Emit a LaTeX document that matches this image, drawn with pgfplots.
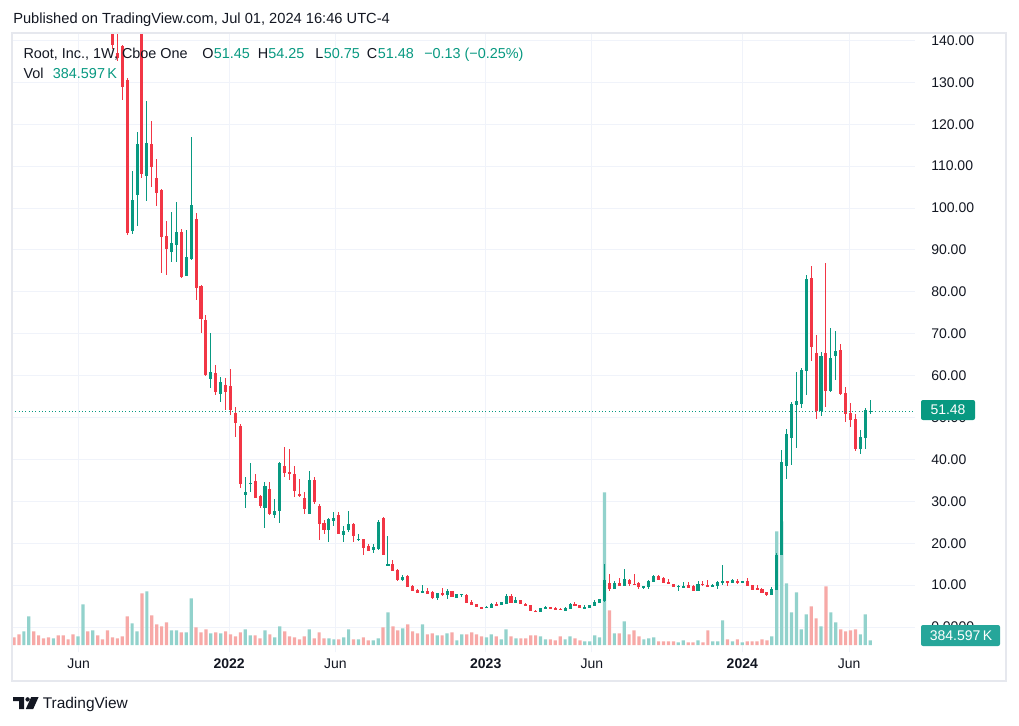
\documentclass[border=0pt]{standalone}
\usepackage{fontspec}
\setmainfont{Liberation Sans}
\usepackage{graphicx}
\usepackage{pgfplots}
\usepackage{pgfplotstable}
\pgfplotsset{compat=1.18}
\definecolor{upgreen}{HTML}{089981}
\definecolor{downred}{HTML}{F23645}
\definecolor{volup}{HTML}{92D2CC}
\definecolor{voldown}{HTML}{F7A9A7}
\definecolor{txt}{HTML}{131722}
\definecolor{gridcol}{HTML}{F0F3FA}
\definecolor{framecol}{HTML}{E6E8EE}
\definecolor{volbox}{HTML}{26A69A}
\pgfplotstableread{
i O H L C V
0 240 255 225 230 631
1 230 236 212 215 877
2 215 232 210 228 1123
3 226 250 220 240 2353
4 240 244 215 218 1123
5 218 222 200 204 795
6 204 210 195 198 549
7 198 202 185 188 631
8 188 198 185 195 549
9 195 197 180 182 795
10 182 186 168 171 795
11 171 176 165 168 467
12 168 172 158 160 877
13 160 172 157 170 713
14 170 195 168 188 3337
15 188 190 172 175 1123
16 175 185 171 180 1205
17 180 182 168 170 795
18 170 173 160 162 467
19 162 165 150 152 1205
20 152 156 138 139 631
21 137 145 135 135.8 549
22 138.7 139 125.8 129.0 713
23 130.6 131 93.6 94.0 2353
24 94.4 108.9 93.8 102.0 1779
25 103.2 118.1 95.8 115.3 1123
26 146 149 107.2 108.1 4239
27 107.7 125.5 101.6 115.5 4403
28 115.3 120.8 105.0 109.9 2435
29 107.2 111.6 100.5 103.5 1697
30 104.3 104.5 84.4 93.2 1533
31 93.3 96.9 84.1 90.1 1861
32 89.6 99.1 87.0 91.6 1205
33 91.2 101.4 87.0 94.3 1205
34 94.3 95.0 83.2 83.5 1041
35 83.8 94.75 83.7 88.2 1041
36 87.9 117.0 87.5 100.7 3829
37 97.3 98.9 78.0 80.8 1451
38 81.4 81.6 70.2 73.6 1041
39 73.3 74.5 60.0 60.1 1287
40 59.1 70.2 57.0 60.9 959
41 60.6 62.5 55.3 56.0 1041
42 55.6 59.6 53.8 58.5 959
43 57.8 59.4 51.7 56.0 1123
44 57.6 61.5 50.6 51.8 877
45 51.0 52.4 45.4 48.6 713
46 48.0 48.4 33.1 34.1 1041
47 31.5 35.9 28.5 32.3 1287
48 34.1 39.1 32.3 34.4 795
49 34.8 36.4 30.8 30.9 795
50 31.3 31.5 28.5 28.9 549
51 28.5 34.5 23.7 33.7 1205
52 32.9 34.5 26.8 26.9 877
53 26.7 30.5 26.1 27.7 631
54 27.8 39.4 24.9 39.1 1533
55 38.4 42.9 35.9 36.8 1123
56 37.0 42.5 35.1 36.4 713
57 36.6 38.5 31.1 32.5 631
58 31.8 35.3 31.1 31.4 467
59 30.9 32.3 27.0 28.2 713
60 27.0 37.2 26.9 35.1 1287
61 35.0 35.9 29.4 29.9 549
62 28.9 29.4 20.8 24.7 1041
63 24.8 25.5 22.3 23.2 549
64 23.2 26.1 20.4 25.8 549
65 25.4 27.4 24.2 26.1 467
66 26.7 27.4 22.2 22.3 467
67 21.9 24.2 20.4 22.9 631
68 23.2 27.8 22.6 24.5 1287
69 24.5 24.9 20.4 21.6 467
70 20.8 22.2 20.6 21.0 467
71 21.0 21.1 17.3 18.9 631
72 19.4 19.8 18.1 18.2 385
73 18.4 19.9 17.7 19.1 385
74 18.6 25.5 18.4 25.0 549
75 26.1 26.2 17.2 17.3 1451
76 14.7 21.8 14.6 15.1 2681
77 15.1 16.0 13.3 13.4 1533
78 13.7 13.8 11.0 11.3 1205
79 11.2 12.4 10.9 12.0 1369
80 12.2 12.4 9.6 9.6 1697
81 9.8 10.0 8.7 8.7 1123
82 8.9 9.0 8.0 8.0 959
83 8.3 10.0 8.2 8.6 1697
84 8.6 9.2 7.9 7.9 877
85 8.4 8.5 6.7 7.0 959
86 7.0 8.1 6.5 8.1 795
87 8.1 9.3 7.4 7.6 795
88 7.6 9.0 6.8 8.6 959
89 8.6 8.7 7.2 7.2 1041
90 7.0 7.9 7.0 7.9 385
91 7.7 7.9 7.2 7.9 877
92 7.6 7.9 5.7 5.7 877
93 6.0 6.5 5.2 5.2 1041
94 5.5 5.5 4.8 4.8 877
95 4.8 4.8 4.3 4.5 713
96 4.5 5.1 4.5 4.85 631
97 4.5 5.7 4.5 5.5 877
98 5.5 5.9 5.0 5.2 713
99 5.2 6.0 5.2 6.0 467
100 5.5 7.9 5.5 7.4 1287
101 7.4 7.9 5.7 5.7 713
102 5.7 7.2 5.7 6.5 549
103 6.5 6.5 5.5 5.5 549
104 5.5 5.7 5.0 5.0 549
105 5.2 5.2 3.8 3.8 795
106 3.8 4.0 3.6 3.6 795
107 3.6 4.5 3.6 4.5 713
108 4.5 5.0 4.3 4.8 467
109 4.8 4.8 4.3 4.5 467
110 4.6 4.8 4.0 4.0 385
111 4.4 4.5 4.0 4.1 713
112 3.8 4.8 3.8 4.5 467
113 4.3 5.7 4.3 5.5 713
114 5.5 6.0 5.0 5.0 549
115 5.2 5.2 4.5 4.5 385
116 4.5 5.2 4.5 4.8 303
117 4.5 5.2 4.5 5.2 303
118 5.0 6.5 5.0 6.0 795
119 5.7 6.7 5.7 6.7 631
120 6.2 15.0 6.0 11.2 12521
121 10.5 12.6 8.6 9.0 2845
122 9.0 11.0 9.0 10.5 959
123 10.5 11.7 9.8 9.8 959
124 9.8 13.8 9.8 11.4 1943
125 11.2 11.4 9.8 10.3 877
126 10.3 12.6 10.0 10.0 1205
127 10.5 10.7 9.0 9.5 713
128 9.5 9.8 9.0 9.8 467
129 9.5 11.2 9.0 11.0 549
130 10.7 12.3 10.7 12.2 631
131 12.2 12.3 11.2 11.2 303
132 11.7 11.9 10.5 10.5 303
133 10.7 11.4 10.3 10.3 303
134 10.3 10.3 9.5 9.5 303
135 9.6 10.1 8.6 9.9 221
136 9.3 10.7 9.3 9.8 385
137 10.0 10.7 9.3 9.3 221
138 9.8 10.0 8.6 8.6 221
139 8.6 11.0 8.6 10.3 385
140 10.3 11.0 9.8 10.0 221
141 10.0 11.2 9.5 9.8 1205
142 9.8 10.3 9.5 10.0 303
143 9.8 11.0 9.0 10.7 303
144 10.7 14.8 10.0 11.0 2025
145 11.0 11.0 9.8 10.7 467
146 10.5 11.4 10.5 11.2 303
147 11.0 11.4 10.3 10.5 467
148 10.7 11.0 10.6 11.0 221
149 11.0 11.7 9.8 9.8 303
150 10.0 10.0 8.8 8.8 303
151 9.4 10.0 8.8 8.8 303
152 9.0 9.2 8.2 8.2 467
153 8.3 8.3 7.4 7.6 385
154 7.6 9.5 7.6 9.0 713
155 8.8 17.7 8.8 17.2 9323
156 17.2 42.2 17.2 39.4 10143
157 38.4 47.2 35.4 46.1 5059
158 45.1 53.7 38.7 53.2 2681
159 53.0 60.9 42.8 53.9 4321
160 53.2 61.8 52.3 61.3 1287
161 61.2 84.0 55.4 83.1 2517
162 83.3 86.2 63.5 66.8 3173
163 65.4 69.7 49.7 51.6 2189
164 51.6 65.6 50.4 64.7 1533
165 65.4 86.9 52.6 56.4 4813
166 56.4 71.4 56.1 64.2 2681
167 64.7 70.6 58.9 65.9 1861
168 66.1 67.5 55.4 55.6 1287
169 55.8 57.3 49.0 50.9 1123
170 51.0 53.5 47.8 49.5 1205
171 49.6 50.8 42.1 42.4 1287
172 42.6 46.9 41.4 45.4 877
173 45.1 52.3 42.5 51.7 2517
174 51.45 54.25 50.75 51.48 385
}\candles
\pgfplotsset{
  base/.style={at={(9pt,54.75pt)}, anchor=south west, scale only axis,
    width=677.25pt, height=464.25pt, xmin=-0.41, xmax=183.1},
  pricey/.style={ymin=-5.967, ymax=141.77},
  upf/.style={restrict expr to domain={\thisrow{C}-\thisrow{O}}{0:100000}},
  dnf/.style={restrict expr to domain={\thisrow{C}-\thisrow{O}}{-100000:-0.00001}},
  nomk/.style={only marks, mark=*, mark size=0pt, mark options={draw=none, fill=none}},
}
\newcommand{\lab}{\fontsize{10.5pt}{12pt}\selectfont}
\newcommand{\leg}{\fontsize{10.8pt}{12pt}\selectfont}
\begin{document}
\begin{tikzpicture}[x=0.75pt,y=0.75pt]
\fill[white] (0,0) rectangle (1019,725);
% grid and tick labels
\begin{axis}[base, pricey,
  axis line style={draw=none}, major tick length=0pt, tick style={draw=none},
  xtick={13.14,43.71,65.29,95.86,117.43,148,169.71},
  xticklabels={Jun,\textbf{2022},Jun,\textbf{2023},Jun,\textbf{2024},Jun},
  ytick={0,10,20,30,40,50,60,70,80,90,100,110,120,130,140},
  yticklabels={0.0000,10.00,20.00,30.00,40.00,50.00,60.00,70.00,80.00,90.00,100.00,110.00,120.00,130.00,140.00},
  yticklabel pos=right,
  grid=major, major grid style={draw=gridcol, line width=0.75pt},
  ticklabel style={font=\lab, text=txt},
  xticklabel style={anchor=base, inner sep=0pt, yshift=-12pt},
  yticklabel style={anchor=west, inner sep=0pt, xshift=12pt},
]
\end{axis}
% volume
\begin{axis}[base, hide axis, ymin=-574, ymax=50184]
\addplot[ybar, bar width=2.4pt, bar shift=0pt, fill=volup, draw=none, upf]
  table[x=i, y=V] {\candles};
\addplot[ybar, bar width=2.4pt, bar shift=0pt, fill=voldown, draw=none, dnf]
  table[x=i, y=V] {\candles};
\end{axis}
% candles
\begin{axis}[base, pricey, hide axis]
\addplot[nomk, upf,
  error bars/.cd, y dir=both, y explicit, error mark=none,
  error bar style={solid, line width=0.75pt, draw=upgreen}]
  table[x=i, y expr={(\thisrow{H}+\thisrow{L})/2}, y error expr={(\thisrow{H}-\thisrow{L})/2}] {\candles};
\addplot[nomk, dnf,
  error bars/.cd, y dir=both, y explicit, error mark=none,
  error bar style={solid, line width=0.75pt, draw=downred}]
  table[x=i, y expr={(\thisrow{H}+\thisrow{L})/2}, y error expr={(\thisrow{H}-\thisrow{L})/2}] {\candles};
\addplot[nomk, upf,
  error bars/.cd, y dir=both, y explicit, error mark=none,
  error bar style={solid, line width=2.3pt, draw=upgreen}]
  table[x=i, y expr={(\thisrow{O}+\thisrow{C})/2}, y error expr={max(abs(\thisrow{C}-\thisrow{O})/2,0.12)}] {\candles};
\addplot[nomk, dnf,
  error bars/.cd, y dir=both, y explicit, error mark=none,
  error bar style={solid, line width=2.3pt, draw=downred}]
  table[x=i, y expr={(\thisrow{O}+\thisrow{C})/2}, y error expr={max(abs(\thisrow{C}-\thisrow{O})/2,0.12)}] {\candles};
\addplot[upgreen, line width=0.75pt, dash pattern=on 0.75pt off 1.75pt]
  coordinates {(-0.41,51.48) (183.1,51.48)};
\end{axis}
% frame
\draw[framecol, line width=1.5pt] (12,44) rectangle (1006,692);
% price label boxes
\fill[upgreen, rounded corners=1.5pt] (921,305) rectangle (975,325);
\node[text=white, inner sep=0pt, font=\lab] at (948,315) {51.48};
\fill[volbox, rounded corners=1.5pt] (921,79) rectangle (1000,100);
\node[text=white, inner sep=0pt, font=\lab] at (961,89.5) {384.597\,K};
% header
\node[anchor=base west, inner sep=0pt, text=txt, font=\fontsize{11pt}{13pt}\selectfont] at (13,701) {Published on TradingView.com, Jul 01, 2024 16:46 UTC-4};
\begin{scope}[every node/.style={anchor=base west, inner sep=0pt, font=\leg}]
\node[text=txt] at (23.3,666) {Root, Inc., 1W, Cboe One};
\node[text=txt] at (202,666) {O};
\node[text=upgreen] at (213.5,666) {51.45};
\node[text=txt] at (257.5,666) {H};
\node[text=upgreen] at (268,666) {54.25};
\node[text=txt] at (315,666) {L};
\node[text=upgreen] at (323.5,666) {50.75};
\node[text=txt] at (366.5,666) {C};
\node[text=upgreen] at (377.5,666) {51.48};
\node[text=upgreen] at (424,666) {−0.13 (−0.25\%)};
\node[text=txt] at (23.3,646) {Vol};
\node[text=upgreen] at (52.7,646) {384.597\,K};
\end{scope}
% footer logo
\fill[txt] (13,28) -- (24,28) -- (24,16) -- (19,16) -- (19,24) -- (13,24) -- cycle;
\fill[txt] (27.6,25.6) circle (2.2);
\fill[txt] (31.2,28) -- (38.6,28) -- (33.2,16) -- (25.8,16) -- cycle;
\node[anchor=base west, inner sep=0pt, text=txt, font=\fontsize{11.6pt}{13pt}\selectfont] at (42.5,17) {TradingView};
\end{tikzpicture}
\end{document}
